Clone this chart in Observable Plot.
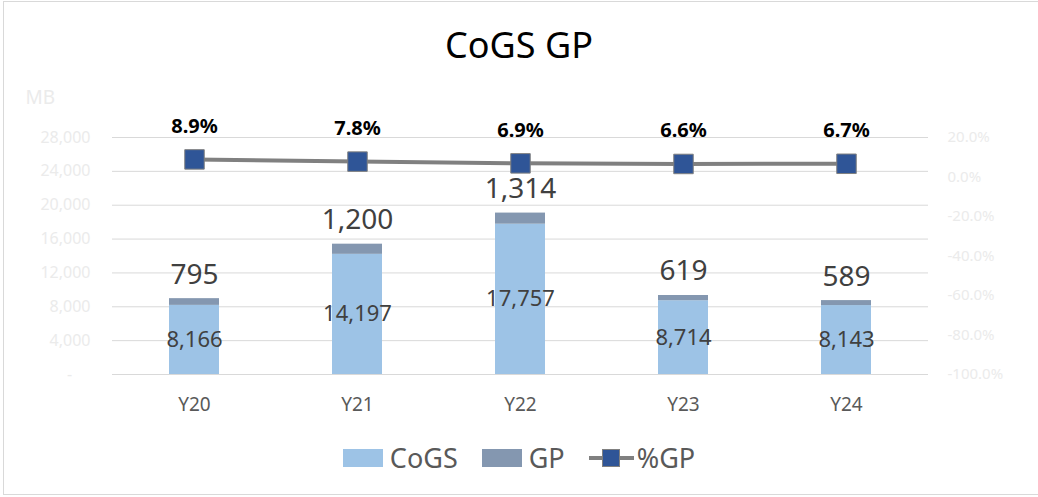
<!DOCTYPE html>
<html>
<head>
<meta charset="utf-8">
<script src="https://cdn.jsdelivr.net/npm/d3@7"></script>
<script src="https://cdn.jsdelivr.net/npm/@observablehq/plot@0.6"></script>
<style>
  html, body { margin: 0; padding: 0; background: #fff; overflow: hidden; }
  #wrap { position: relative; width: 1038px; height: 497px; font-family: "Noto Sans", "Open Sans", sans-serif; }
  #border { position: absolute; left: 3px; top: 1px; width: 1040px; height: 494px; border: 1px solid #d9d9d9; box-sizing: border-box; pointer-events: none; }
  #title { height: 70px; display: flex; align-items: center; justify-content: center; font-size: 36px; color: #000; padding-top: 18px; box-sizing: border-box; }
  #chart svg { display: block; }
  #legend { height: 67px; display: flex; align-items: center; justify-content: center; font-size: 27px; color: #595959; padding-bottom: 12px; box-sizing: border-box; }
  .item { display: flex; align-items: center; margin: 0 12px; }
  .sw { width: 40px; height: 18px; margin-right: 7px; }
  .ln { position: relative; width: 45px; height: 18px; margin-right: 3px; }
  .ln .bar { position: absolute; left: 0; right: 0; top: 7px; height: 4px; background: #808080; }
  .ln .sq { position: absolute; left: 13px; top: 0; width: 18px; height: 18px; background: #2F5597; box-sizing: border-box; border: 1px solid #808080; }
</style>
</head>
<body>
<div id="wrap">
  <div id="title">CoGS GP</div>
  <div id="chart"></div>
  <div id="legend"></div>
  <div id="border"></div>
</div>
<script>
const years = ["Y20", "Y21", "Y22", "Y23", "Y24"];
const cogs = [8166, 14197, 17757, 8714, 8143];
const gp = [795, 1200, 1314, 619, 589];
const gpPct = [8.9, 7.8, 6.9, 6.6, 6.7];
const leftTicks = [0, 4000, 8000, 12000, 16000, 20000, 24000, 28000];
const rightTicks = [-100, -80, -60, -40, -20, 0, 20];
const seriesNames = ["CoGS", "GP", "%GP"];
const unitLabel = "MB";

const colCogs = "#9DC3E6", colGp = "#8497B0", colLine = "#808080", colMarker = "#2F5597";

// secondary axis (-100%..20%) mapped onto primary (0..28000)
const leftMax = 28000, rMin = -100, rMax = 20;
const toLeft = p => (p - rMin) / (rMax - rMin) * leftMax;

const stacked = [];
years.forEach((y, i) => {
  stacked.push({year: y, series: seriesNames[0], value: cogs[i]});
  stacked.push({year: y, series: seriesNames[1], value: gp[i]});
});
const rows = years.map((y, i) => ({year: y, cogs: cogs[i], gp: gp[i], pct: gpPct[i]}));

const fmt = d3.format(",");

const chart = Plot.plot({
  width: 1038,
  height: 360,
  marginLeft: 112,
  marginRight: 110,
  marginTop: 67,
  marginBottom: 56,
  style: {fontFamily: '"Noto Sans", "Open Sans", sans-serif', background: "transparent"},
  x: {domain: years, paddingInner: 0.694, paddingOuter: 0.347, axis: null},
  y: {domain: [0, leftMax], axis: null},
  color: {domain: [seriesNames[0], seriesNames[1]], range: [colCogs, colGp]},
  marks: [
    Plot.gridY(leftTicks, {stroke: "#d9d9d9", strokeOpacity: 1, strokeWidth: 1}),
    Plot.axisY(leftTicks, {tickSize: 0, tickPadding: 22, fontSize: 16, color: "#ebebeb",
      tickFormat: v => v === 0 ? "-\u2007\u2007" : fmt(v), label: null}),
    Plot.axisX({tickSize: 0, tickPadding: 23, fontSize: 19, color: "#595959", label: null}),
    Plot.barY(stacked, Plot.stackY({x: "year", y: "value", fill: "series", order: seriesNames.slice(0, 2)})),
    Plot.text(rows, {x: "year", y: d => d.cogs / 2, text: d => fmt(d.cogs), fontSize: 22, fill: "#404040"}),
    Plot.text(rows, {x: "year", y: d => d.cogs + d.gp, dy: -24, text: d => fmt(d.gp), fontSize: 28, fill: "#404040"}),
    Plot.line(rows, {x: "year", y: d => toLeft(d.pct), stroke: colLine, strokeWidth: 4}),
    Plot.dot(rows, {x: "year", y: d => toLeft(d.pct), symbol: "square", r: 11, fill: colMarker, stroke: colLine, strokeWidth: 1}),
    Plot.text(rows, {x: "year", y: d => toLeft(d.pct), dy: -33, text: d => d.pct.toFixed(1) + "%", fontSize: 20, fontWeight: "bold", fill: "#000"}),
    Plot.text(rightTicks, {y: p => toLeft(p), frameAnchor: "right", dx: 19, textAnchor: "start", text: p => p.toFixed(1) + "%", fontSize: 15, fill: "#ebebeb"}),
    Plot.text([unitLabel], {frameAnchor: "top-left", dx: -87, dy: -47, textAnchor: "start", text: d => d, fontSize: 19, fill: "#ebebeb"})
  ]
});
document.getElementById("chart").appendChild(chart);

const legend = document.getElementById("legend");
legend.innerHTML =
  `<div class="item"><div class="sw" style="background:${colCogs}"></div><span>${seriesNames[0]}</span></div>` +
  `<div class="item"><div class="sw" style="background:${colGp}"></div><span>${seriesNames[1]}</span></div>` +
  `<div class="item"><div class="ln"><div class="bar"></div><div class="sq"></div></div><span>${seriesNames[2]}</span></div>`;
</script>
</body>
</html>
